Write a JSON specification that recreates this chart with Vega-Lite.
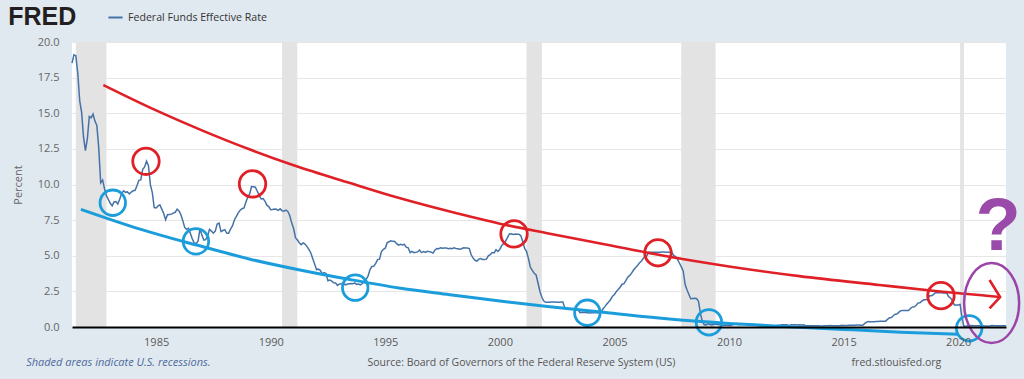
{
"$schema": "https://vega.github.io/schema/vega-lite/v6.json",
"width": 934, "height": 285,
"autosize": {"type": "none"},
"padding": {"left": 72, "top": 42, "right": 18, "bottom": 52},
"background": "#e1e9f0",
"config": {"view": {"fill": "#ffffff", "stroke": null}, "font": "Open Sans"},
"layer": [
{
"data": {"values": [
{"start": "1981-07-01", "end": "1982-11-01"},
{"start": "1990-07-01", "end": "1991-03-01"},
{"start": "2001-03-01", "end": "2001-11-01"},
{"start": "2007-12-01", "end": "2009-06-01"},
{"start": "2020-02-01", "end": "2020-04-01"}
]},
"mark": {"type": "rect", "color": "#e3e3e3"},
"encoding": {
"x": {"field": "start", "type": "temporal",
"scale": {"type": "utc", "domain": [{"year": 1981, "month": 5, "date": 1, "utc": true}, {"year": 2022, "month": 2, "date": 1, "utc": true}]},
"axis": {"title": null, "format": "%Y", "values": [{"year": 1985, "utc": true}, {"year": 1990, "utc": true}, {"year": 1995, "utc": true}, {"year": 2000, "utc": true}, {"year": 2005, "utc": true}, {"year": 2010, "utc": true}, {"year": 2015, "utc": true}, {"year": 2020, "utc": true}],
"grid": false, "ticks": false, "tickSize": 0, "domainColor": "#000000", "domainWidth": 2, "labelPadding": 9, "labelFontSize": 11, "labelColor": "#595959", "labelFont": "Open Sans", "zindex": 1}},
"x2": {"field": "end"}
}
},
{
"data": {"values": [
{"date":"1981-05-01","rate":18.52},{"date":"1981-06-01","rate":19.10},{"date":"1981-07-01","rate":19.04},{"date":"1981-08-01","rate":17.82},{"date":"1981-09-01","rate":15.87},{"date":"1981-10-01","rate":15.08},{"date":"1981-11-01","rate":13.31},{"date":"1981-12-01","rate":12.37},
{"date":"1982-01-01","rate":13.22},{"date":"1982-02-01","rate":14.78},{"date":"1982-03-01","rate":14.68},{"date":"1982-04-01","rate":14.94},{"date":"1982-05-01","rate":14.45},{"date":"1982-06-01","rate":14.15},{"date":"1982-07-01","rate":12.59},{"date":"1982-08-01","rate":10.12},{"date":"1982-09-01","rate":10.31},{"date":"1982-10-01","rate":9.71},{"date":"1982-11-01","rate":9.20},{"date":"1982-12-01","rate":8.95},
{"date":"1983-01-01","rate":8.68},{"date":"1983-02-01","rate":8.51},{"date":"1983-03-01","rate":8.77},{"date":"1983-04-01","rate":8.80},{"date":"1983-05-01","rate":8.63},{"date":"1983-06-01","rate":8.98},{"date":"1983-07-01","rate":9.37},{"date":"1983-08-01","rate":9.56},{"date":"1983-09-01","rate":9.45},{"date":"1983-10-01","rate":9.48},{"date":"1983-11-01","rate":9.34},{"date":"1983-12-01","rate":9.47},
{"date":"1984-01-01","rate":9.56},{"date":"1984-02-01","rate":9.59},{"date":"1984-03-01","rate":9.91},{"date":"1984-04-01","rate":10.29},{"date":"1984-05-01","rate":10.32},{"date":"1984-06-01","rate":11.06},{"date":"1984-07-01","rate":11.23},{"date":"1984-08-01","rate":11.64},{"date":"1984-09-01","rate":11.30},{"date":"1984-10-01","rate":9.99},{"date":"1984-11-01","rate":9.43},{"date":"1984-12-01","rate":8.38},
{"date":"1985-01-01","rate":8.35},{"date":"1985-02-01","rate":8.50},{"date":"1985-03-01","rate":8.58},{"date":"1985-04-01","rate":8.27},{"date":"1985-05-01","rate":7.97},{"date":"1985-06-01","rate":7.53},{"date":"1985-07-01","rate":7.88},{"date":"1985-08-01","rate":7.90},{"date":"1985-09-01","rate":7.92},{"date":"1985-10-01","rate":7.99},{"date":"1985-11-01","rate":8.05},{"date":"1985-12-01","rate":8.27},
{"date":"1986-01-01","rate":8.14},{"date":"1986-02-01","rate":7.86},{"date":"1986-03-01","rate":7.48},{"date":"1986-04-01","rate":6.99},{"date":"1986-05-01","rate":6.85},{"date":"1986-06-01","rate":6.92},{"date":"1986-07-01","rate":6.56},{"date":"1986-08-01","rate":6.17},{"date":"1986-09-01","rate":5.89},{"date":"1986-10-01","rate":5.85},{"date":"1986-11-01","rate":6.04},{"date":"1986-12-01","rate":6.91},
{"date":"1987-01-01","rate":6.43},{"date":"1987-02-01","rate":6.10},{"date":"1987-03-01","rate":6.13},{"date":"1987-04-01","rate":6.37},{"date":"1987-05-01","rate":6.85},{"date":"1987-06-01","rate":6.73},{"date":"1987-07-01","rate":6.58},{"date":"1987-08-01","rate":6.73},{"date":"1987-09-01","rate":7.22},{"date":"1987-10-01","rate":7.29},{"date":"1987-11-01","rate":6.69},{"date":"1987-12-01","rate":6.77},
{"date":"1988-01-01","rate":6.83},{"date":"1988-02-01","rate":6.58},{"date":"1988-03-01","rate":6.58},{"date":"1988-04-01","rate":6.87},{"date":"1988-05-01","rate":7.09},{"date":"1988-06-01","rate":7.51},{"date":"1988-07-01","rate":7.75},{"date":"1988-08-01","rate":8.01},{"date":"1988-09-01","rate":8.19},{"date":"1988-10-01","rate":8.30},{"date":"1988-11-01","rate":8.35},{"date":"1988-12-01","rate":8.76},
{"date":"1989-01-01","rate":9.12},{"date":"1989-02-01","rate":9.36},{"date":"1989-03-01","rate":9.85},{"date":"1989-04-01","rate":9.84},{"date":"1989-05-01","rate":9.81},{"date":"1989-06-01","rate":9.53},{"date":"1989-07-01","rate":9.24},{"date":"1989-08-01","rate":8.99},{"date":"1989-09-01","rate":9.02},{"date":"1989-10-01","rate":8.84},{"date":"1989-11-01","rate":8.55},{"date":"1989-12-01","rate":8.45},
{"date":"1990-01-01","rate":8.23},{"date":"1990-02-01","rate":8.24},{"date":"1990-03-01","rate":8.28},{"date":"1990-04-01","rate":8.26},{"date":"1990-05-01","rate":8.18},{"date":"1990-06-01","rate":8.29},{"date":"1990-07-01","rate":8.15},{"date":"1990-08-01","rate":8.13},{"date":"1990-09-01","rate":8.20},{"date":"1990-10-01","rate":8.11},{"date":"1990-11-01","rate":7.81},{"date":"1990-12-01","rate":7.31},
{"date":"1991-01-01","rate":6.91},{"date":"1991-02-01","rate":6.25},{"date":"1991-03-01","rate":6.12},{"date":"1991-04-01","rate":5.91},{"date":"1991-05-01","rate":5.78},{"date":"1991-06-01","rate":5.90},{"date":"1991-07-01","rate":5.82},{"date":"1991-08-01","rate":5.66},{"date":"1991-09-01","rate":5.45},{"date":"1991-10-01","rate":5.21},{"date":"1991-11-01","rate":4.81},{"date":"1991-12-01","rate":4.43},
{"date":"1992-01-01","rate":4.03},{"date":"1992-02-01","rate":4.06},{"date":"1992-03-01","rate":3.98},{"date":"1992-04-01","rate":3.73},{"date":"1992-05-01","rate":3.82},{"date":"1992-06-01","rate":3.76},{"date":"1992-07-01","rate":3.25},{"date":"1992-08-01","rate":3.30},{"date":"1992-09-01","rate":3.22},{"date":"1992-10-01","rate":3.10},{"date":"1992-11-01","rate":3.09},{"date":"1992-12-01","rate":2.92},
{"date":"1993-01-01","rate":3.02},{"date":"1993-02-01","rate":3.03},{"date":"1993-03-01","rate":3.07},{"date":"1993-04-01","rate":2.96},{"date":"1993-05-01","rate":3.00},{"date":"1993-06-01","rate":3.04},{"date":"1993-07-01","rate":3.06},{"date":"1993-08-01","rate":3.03},{"date":"1993-09-01","rate":3.09},{"date":"1993-10-01","rate":2.99},{"date":"1993-11-01","rate":3.02},{"date":"1993-12-01","rate":2.96},
{"date":"1994-01-01","rate":3.05},{"date":"1994-02-01","rate":3.25},{"date":"1994-03-01","rate":3.34},{"date":"1994-04-01","rate":3.56},{"date":"1994-05-01","rate":4.01},{"date":"1994-06-01","rate":4.25},{"date":"1994-07-01","rate":4.26},{"date":"1994-08-01","rate":4.47},{"date":"1994-09-01","rate":4.73},{"date":"1994-10-01","rate":4.76},{"date":"1994-11-01","rate":5.29},{"date":"1994-12-01","rate":5.45},
{"date":"1995-01-01","rate":5.53},{"date":"1995-02-01","rate":5.92},{"date":"1995-03-01","rate":5.98},{"date":"1995-04-01","rate":6.05},{"date":"1995-05-01","rate":6.01},{"date":"1995-06-01","rate":6.00},{"date":"1995-07-01","rate":5.85},{"date":"1995-08-01","rate":5.74},{"date":"1995-09-01","rate":5.80},{"date":"1995-10-01","rate":5.76},{"date":"1995-11-01","rate":5.80},{"date":"1995-12-01","rate":5.60},
{"date":"1996-01-01","rate":5.56},{"date":"1996-02-01","rate":5.22},{"date":"1996-03-01","rate":5.31},{"date":"1996-04-01","rate":5.22},{"date":"1996-05-01","rate":5.24},{"date":"1996-06-01","rate":5.27},{"date":"1996-07-01","rate":5.40},{"date":"1996-08-01","rate":5.22},{"date":"1996-09-01","rate":5.30},{"date":"1996-10-01","rate":5.24},{"date":"1996-11-01","rate":5.31},{"date":"1996-12-01","rate":5.29},
{"date":"1997-01-01","rate":5.25},{"date":"1997-02-01","rate":5.19},{"date":"1997-03-01","rate":5.39},{"date":"1997-04-01","rate":5.51},{"date":"1997-05-01","rate":5.50},{"date":"1997-06-01","rate":5.56},{"date":"1997-07-01","rate":5.52},{"date":"1997-08-01","rate":5.54},{"date":"1997-09-01","rate":5.54},{"date":"1997-10-01","rate":5.50},{"date":"1997-11-01","rate":5.52},{"date":"1997-12-01","rate":5.50},
{"date":"1998-01-01","rate":5.56},{"date":"1998-02-01","rate":5.51},{"date":"1998-03-01","rate":5.49},{"date":"1998-04-01","rate":5.45},{"date":"1998-05-01","rate":5.49},{"date":"1998-06-01","rate":5.56},{"date":"1998-07-01","rate":5.54},{"date":"1998-08-01","rate":5.55},{"date":"1998-09-01","rate":5.51},{"date":"1998-10-01","rate":5.07},{"date":"1998-11-01","rate":4.83},{"date":"1998-12-01","rate":4.68},
{"date":"1999-01-01","rate":4.63},{"date":"1999-02-01","rate":4.76},{"date":"1999-03-01","rate":4.81},{"date":"1999-04-01","rate":4.74},{"date":"1999-05-01","rate":4.74},{"date":"1999-06-01","rate":4.76},{"date":"1999-07-01","rate":4.99},{"date":"1999-08-01","rate":5.07},{"date":"1999-09-01","rate":5.22},{"date":"1999-10-01","rate":5.20},{"date":"1999-11-01","rate":5.42},{"date":"1999-12-01","rate":5.30},
{"date":"2000-01-01","rate":5.45},{"date":"2000-02-01","rate":5.73},{"date":"2000-03-01","rate":5.85},{"date":"2000-04-01","rate":6.02},{"date":"2000-05-01","rate":6.27},{"date":"2000-06-01","rate":6.53},{"date":"2000-07-01","rate":6.54},{"date":"2000-08-01","rate":6.50},{"date":"2000-09-01","rate":6.52},{"date":"2000-10-01","rate":6.51},{"date":"2000-11-01","rate":6.51},{"date":"2000-12-01","rate":6.40},
{"date":"2001-01-01","rate":5.98},{"date":"2001-02-01","rate":5.49},{"date":"2001-03-01","rate":5.31},{"date":"2001-04-01","rate":4.80},{"date":"2001-05-01","rate":4.21},{"date":"2001-06-01","rate":3.97},{"date":"2001-07-01","rate":3.77},{"date":"2001-08-01","rate":3.65},{"date":"2001-09-01","rate":3.07},{"date":"2001-10-01","rate":2.49},{"date":"2001-11-01","rate":2.09},{"date":"2001-12-01","rate":1.82},
{"date":"2002-01-01","rate":1.73},{"date":"2002-02-01","rate":1.74},{"date":"2002-03-01","rate":1.73},{"date":"2002-04-01","rate":1.75},{"date":"2002-05-01","rate":1.75},{"date":"2002-06-01","rate":1.75},{"date":"2002-07-01","rate":1.73},{"date":"2002-08-01","rate":1.74},{"date":"2002-09-01","rate":1.75},{"date":"2002-10-01","rate":1.75},{"date":"2002-11-01","rate":1.34},{"date":"2002-12-01","rate":1.24},
{"date":"2003-01-01","rate":1.24},{"date":"2003-02-01","rate":1.26},{"date":"2003-03-01","rate":1.25},{"date":"2003-04-01","rate":1.26},{"date":"2003-05-01","rate":1.26},{"date":"2003-06-01","rate":1.22},{"date":"2003-07-01","rate":1.01},{"date":"2003-08-01","rate":1.03},{"date":"2003-09-01","rate":1.01},{"date":"2003-10-01","rate":1.01},{"date":"2003-11-01","rate":1.00},{"date":"2003-12-01","rate":0.98},
{"date":"2004-01-01","rate":1.00},{"date":"2004-02-01","rate":1.01},{"date":"2004-03-01","rate":1.00},{"date":"2004-04-01","rate":1.00},{"date":"2004-05-01","rate":1.00},{"date":"2004-06-01","rate":1.03},{"date":"2004-07-01","rate":1.26},{"date":"2004-08-01","rate":1.43},{"date":"2004-09-01","rate":1.61},{"date":"2004-10-01","rate":1.76},{"date":"2004-11-01","rate":1.93},{"date":"2004-12-01","rate":2.16},
{"date":"2005-01-01","rate":2.28},{"date":"2005-02-01","rate":2.50},{"date":"2005-03-01","rate":2.63},{"date":"2005-04-01","rate":2.79},{"date":"2005-05-01","rate":3.00},{"date":"2005-06-01","rate":3.04},{"date":"2005-07-01","rate":3.26},{"date":"2005-08-01","rate":3.50},{"date":"2005-09-01","rate":3.62},{"date":"2005-10-01","rate":3.78},{"date":"2005-11-01","rate":4.00},{"date":"2005-12-01","rate":4.16},
{"date":"2006-01-01","rate":4.29},{"date":"2006-02-01","rate":4.49},{"date":"2006-03-01","rate":4.59},{"date":"2006-04-01","rate":4.79},{"date":"2006-05-01","rate":4.94},{"date":"2006-06-01","rate":4.99},{"date":"2006-07-01","rate":5.24},{"date":"2006-08-01","rate":5.25},{"date":"2006-09-01","rate":5.25},{"date":"2006-10-01","rate":5.25},{"date":"2006-11-01","rate":5.25},{"date":"2006-12-01","rate":5.24},
{"date":"2007-01-01","rate":5.25},{"date":"2007-02-01","rate":5.26},{"date":"2007-03-01","rate":5.26},{"date":"2007-04-01","rate":5.25},{"date":"2007-05-01","rate":5.25},{"date":"2007-06-01","rate":5.25},{"date":"2007-07-01","rate":5.26},{"date":"2007-08-01","rate":5.02},{"date":"2007-09-01","rate":4.94},{"date":"2007-10-01","rate":4.76},{"date":"2007-11-01","rate":4.49},{"date":"2007-12-01","rate":4.24},
{"date":"2008-01-01","rate":3.94},{"date":"2008-02-01","rate":2.98},{"date":"2008-03-01","rate":2.61},{"date":"2008-04-01","rate":2.28},{"date":"2008-05-01","rate":1.98},{"date":"2008-06-01","rate":2.00},{"date":"2008-07-01","rate":2.01},{"date":"2008-08-01","rate":2.00},{"date":"2008-09-01","rate":1.81},{"date":"2008-10-01","rate":0.97},{"date":"2008-11-01","rate":0.39},{"date":"2008-12-01","rate":0.16},
{"date":"2009-01-01","rate":0.15},{"date":"2009-02-01","rate":0.22},{"date":"2009-03-01","rate":0.18},{"date":"2009-04-01","rate":0.15},{"date":"2009-05-01","rate":0.18},{"date":"2009-06-01","rate":0.21},{"date":"2009-07-01","rate":0.16},{"date":"2009-08-01","rate":0.16},{"date":"2009-09-01","rate":0.15},{"date":"2009-10-01","rate":0.12},{"date":"2009-11-01","rate":0.12},{"date":"2009-12-01","rate":0.12},
{"date":"2010-01-01","rate":0.11},{"date":"2010-02-01","rate":0.13},{"date":"2010-03-01","rate":0.16},{"date":"2010-04-01","rate":0.20},{"date":"2010-05-01","rate":0.20},{"date":"2010-06-01","rate":0.18},{"date":"2010-07-01","rate":0.18},{"date":"2010-08-01","rate":0.19},{"date":"2010-09-01","rate":0.19},{"date":"2010-10-01","rate":0.19},{"date":"2010-11-01","rate":0.19},{"date":"2010-12-01","rate":0.18},
{"date":"2011-01-01","rate":0.17},{"date":"2011-02-01","rate":0.16},{"date":"2011-03-01","rate":0.14},{"date":"2011-04-01","rate":0.10},{"date":"2011-05-01","rate":0.09},{"date":"2011-06-01","rate":0.09},{"date":"2011-07-01","rate":0.07},{"date":"2011-08-01","rate":0.10},{"date":"2011-09-01","rate":0.08},{"date":"2011-10-01","rate":0.07},{"date":"2011-11-01","rate":0.08},{"date":"2011-12-01","rate":0.07},
{"date":"2012-01-01","rate":0.08},{"date":"2012-02-01","rate":0.10},{"date":"2012-03-01","rate":0.13},{"date":"2012-04-01","rate":0.14},{"date":"2012-05-01","rate":0.16},{"date":"2012-06-01","rate":0.16},{"date":"2012-07-01","rate":0.16},{"date":"2012-08-01","rate":0.13},{"date":"2012-09-01","rate":0.14},{"date":"2012-10-01","rate":0.16},{"date":"2012-11-01","rate":0.16},{"date":"2012-12-01","rate":0.16},
{"date":"2013-01-01","rate":0.14},{"date":"2013-02-01","rate":0.15},{"date":"2013-03-01","rate":0.14},{"date":"2013-04-01","rate":0.15},{"date":"2013-05-01","rate":0.11},{"date":"2013-06-01","rate":0.09},{"date":"2013-07-01","rate":0.09},{"date":"2013-08-01","rate":0.08},{"date":"2013-09-01","rate":0.08},{"date":"2013-10-01","rate":0.09},{"date":"2013-11-01","rate":0.08},{"date":"2013-12-01","rate":0.09},
{"date":"2014-01-01","rate":0.07},{"date":"2014-02-01","rate":0.07},{"date":"2014-03-01","rate":0.08},{"date":"2014-04-01","rate":0.09},{"date":"2014-05-01","rate":0.09},{"date":"2014-06-01","rate":0.10},{"date":"2014-07-01","rate":0.09},{"date":"2014-08-01","rate":0.09},{"date":"2014-09-01","rate":0.09},{"date":"2014-10-01","rate":0.09},{"date":"2014-11-01","rate":0.09},{"date":"2014-12-01","rate":0.12},
{"date":"2015-01-01","rate":0.11},{"date":"2015-02-01","rate":0.11},{"date":"2015-03-01","rate":0.11},{"date":"2015-04-01","rate":0.12},{"date":"2015-05-01","rate":0.12},{"date":"2015-06-01","rate":0.13},{"date":"2015-07-01","rate":0.13},{"date":"2015-08-01","rate":0.14},{"date":"2015-09-01","rate":0.14},{"date":"2015-10-01","rate":0.12},{"date":"2015-11-01","rate":0.12},{"date":"2015-12-01","rate":0.24},
{"date":"2016-01-01","rate":0.34},{"date":"2016-02-01","rate":0.38},{"date":"2016-03-01","rate":0.36},{"date":"2016-04-01","rate":0.37},{"date":"2016-05-01","rate":0.37},{"date":"2016-06-01","rate":0.38},{"date":"2016-07-01","rate":0.39},{"date":"2016-08-01","rate":0.40},{"date":"2016-09-01","rate":0.40},{"date":"2016-10-01","rate":0.40},{"date":"2016-11-01","rate":0.41},{"date":"2016-12-01","rate":0.54},
{"date":"2017-01-01","rate":0.65},{"date":"2017-02-01","rate":0.66},{"date":"2017-03-01","rate":0.79},{"date":"2017-04-01","rate":0.90},{"date":"2017-05-01","rate":0.91},{"date":"2017-06-01","rate":1.04},{"date":"2017-07-01","rate":1.15},{"date":"2017-08-01","rate":1.16},{"date":"2017-09-01","rate":1.15},{"date":"2017-10-01","rate":1.15},{"date":"2017-11-01","rate":1.16},{"date":"2017-12-01","rate":1.30},
{"date":"2018-01-01","rate":1.41},{"date":"2018-02-01","rate":1.42},{"date":"2018-03-01","rate":1.51},{"date":"2018-04-01","rate":1.69},{"date":"2018-05-01","rate":1.70},{"date":"2018-06-01","rate":1.82},{"date":"2018-07-01","rate":1.91},{"date":"2018-08-01","rate":1.91},{"date":"2018-09-01","rate":1.95},{"date":"2018-10-01","rate":2.19},{"date":"2018-11-01","rate":2.20},{"date":"2018-12-01","rate":2.27},
{"date":"2019-01-01","rate":2.40},{"date":"2019-02-01","rate":2.40},{"date":"2019-03-01","rate":2.41},{"date":"2019-04-01","rate":2.42},{"date":"2019-05-01","rate":2.39},{"date":"2019-06-01","rate":2.38},{"date":"2019-07-01","rate":2.40},{"date":"2019-08-01","rate":2.13},{"date":"2019-09-01","rate":2.04},{"date":"2019-10-01","rate":1.83},{"date":"2019-11-01","rate":1.55},{"date":"2019-12-01","rate":1.55},
{"date":"2020-01-01","rate":1.55},{"date":"2020-02-01","rate":1.58},{"date":"2020-03-01","rate":0.65},{"date":"2020-04-01","rate":0.05},{"date":"2020-05-01","rate":0.05},{"date":"2020-06-01","rate":0.08},{"date":"2020-07-01","rate":0.09},{"date":"2020-08-01","rate":0.10},{"date":"2020-09-01","rate":0.09},{"date":"2020-10-01","rate":0.09},{"date":"2020-11-01","rate":0.09},{"date":"2020-12-01","rate":0.09},
{"date":"2021-01-01","rate":0.09},{"date":"2021-02-01","rate":0.08},{"date":"2021-03-01","rate":0.07},{"date":"2021-04-01","rate":0.07},{"date":"2021-05-01","rate":0.06},{"date":"2021-06-01","rate":0.08},{"date":"2021-07-01","rate":0.10},{"date":"2021-08-01","rate":0.09},{"date":"2021-09-01","rate":0.08},{"date":"2021-10-01","rate":0.08},{"date":"2021-11-01","rate":0.08},{"date":"2021-12-01","rate":0.08},
{"date":"2022-01-01","rate":0.08},{"date":"2022-02-01","rate":0.08}
]},
"mark": {"type": "line", "strokeWidth": 1.5},
"encoding": {
"x": {"field": "date", "type": "temporal"},
"y": {"field": "rate", "type": "quantitative",
"scale": {"domain": [0, 20], "nice": false, "zero": false},
"axis": {"title": "Percent", "values": [0, 2.5, 5, 7.5, 10, 12.5, 15, 17.5, 20], "tickCount": 12, "format": ".1f", "labelOverlap": false, "grid": true, "gridColor": "#e6e6e6", "domain": false, "ticks": false, "tickSize": 0, "labelPadding": 13, "labelFontSize": 11, "labelColor": "#666666", "labelFont": "Open Sans", "titleFont": "Open Sans", "titleFontSize": 11, "titleFontWeight": "normal", "titleColor": "#666666", "titlePadding": 14}},
"color": {"datum": "Federal Funds Effective Rate", "scale": {"range": ["#4572a7"]},
"legend": {"orient": "none", "legendX": 35, "legendY": -33, "title": null, "symbolType": "stroke", "symbolSize": 200, "symbolStrokeWidth": 2, "labelFontSize": 10.6, "labelColor": "#333333", "labelFont": "Open Sans", "padding": 0}}
}
},
{
"data": {"values": [
{"date":"1982-09-13","v":16.98},{"date":"1985-01-01","v":15.2},{"date":"1987-01-01","v":13.8},{"date":"1989-02-06","v":12.45},{"date":"1991-01-01","v":11.35},{"date":"1993-06-18","v":10.1},{"date":"1995-07-01","v":9.1},{"date":"1997-10-27","v":8.1},{"date":"2000-01-01","v":7.25},{"date":"2002-03-07","v":6.55},{"date":"2004-07-01","v":5.83},{"date":"2007-05-27","v":4.93},{"date":"2010-01-01","v":4.25},{"date":"2013-01-26","v":3.57},{"date":"2016-07-23","v":2.95},{"date":"2019-01-01","v":2.53},{"date":"2020-12-01","v":2.24},{"date":"2021-10-30","v":2.1}
]},
"mark": {"type": "line", "color": "#e02027", "strokeWidth": 2.6, "interpolate": "monotone"},
"encoding": {"x": {"field": "date", "type": "temporal"}, "y": {"field": "v", "type": "quantitative"}}
},
{
"data": {"values": [
{"date":"2021-05-15","v":3.3,"k":1},{"date":"2021-10-30","v":2.1,"k":2},{"date":"2021-05-15","v":1.31,"k":3}
]},
"mark": {"type": "line", "color": "#e02027", "strokeWidth": 2.6},
"encoding": {"x": {"field": "date", "type": "temporal"}, "y": {"field": "v", "type": "quantitative"}, "order": {"field": "k"}}
},
{
"data": {"values": [
{"date":"1981-09-20","v":8.26},{"date":"1984-04-20","v":6.87},{"date":"1986-10-08","v":5.75},{"date":"1989-02-06","v":4.76},{"date":"1991-04-12","v":4.0},{"date":"1993-06-18","v":3.33},{"date":"1995-08-07","v":2.74},{"date":"1997-10-27","v":2.27},{"date":"2000-01-01","v":1.82},{"date":"2002-03-07","v":1.42},{"date":"2004-10-20","v":0.98},{"date":"2007-05-27","v":0.56},{"date":"2010-01-01","v":0.25},{"date":"2012-03-15","v":0.06},{"date":"2015-01-01","v":-0.17},{"date":"2017-07-01","v":-0.36},{"date":"2020-01-01","v":-0.51}
]},
"mark": {"type": "line", "color": "#1b9ddb", "strokeWidth": 3, "interpolate": "monotone"},
"encoding": {"x": {"field": "date", "type": "temporal"}, "y": {"field": "v", "type": "quantitative"}}
},
{
"data": {"values": [
{"date":"1984-07-23","v":11.63},{"date":"1989-03-17","v":10.04},{"date":"2000-08-14","v":6.53},{"date":"2006-11-25","v":5.21},{"date":"2019-04-01","v":2.2}
]},
"mark": {"type": "point", "shape": "circle", "filled": false, "size": 700, "strokeWidth": 2.8, "color": "#e02027", "opacity": 1},
"encoding": {"x": {"field": "date", "type": "temporal"}, "y": {"field": "v", "type": "quantitative"}}
},
{
"data": {"values": [
{"date":"1983-02-10","v":8.72},{"date":"1986-09-27","v":6.01},{"date":"1993-09-09","v":2.76},{"date":"2003-10-27","v":1.0},{"date":"2009-02-14","v":0.33},{"date":"2020-06-24","v":-0.09}
]},
"mark": {"type": "point", "shape": "circle", "filled": false, "size": 650, "strokeWidth": 2.8, "color": "#1b9ddb", "opacity": 1},
"encoding": {"x": {"field": "date", "type": "temporal"}, "y": {"field": "v", "type": "quantitative"}}
},
{
"data": {"values": [{"date":"2021-06-17","v":1.68}]},
"mark": {"type": "point", "shape": "M -0.6875 0 A 0.6875 1 0 1 1 0.6875 0 A 0.6875 1 0 1 1 -0.6875 0 Z", "filled": false, "size": 6400, "strokeWidth": 2.5, "color": "#9b45a8", "opacity": 1},
"encoding": {"x": {"field": "date", "type": "temporal"}, "y": {"field": "v", "type": "quantitative"}}
},
{
"data": {"values": [{"label": "?"}]},
"mark": {"type": "text", "font": "Liberation Sans", "fontWeight": "bold", "fontSize": 74, "color": "#9a4aa8", "align": "center", "baseline": "alphabetic"},
"encoding": {"x": {"datum": {"year": 2021, "month": 9, "date": 27, "utc": true}, "type": "temporal"}, "y": {"datum": 5.4, "type": "quantitative"}, "text": {"field": "label"}}
},
{
"data": {"values": [{"label": "FRED"}]},
"mark": {"type": "text", "font": "Liberation Sans", "fontWeight": "bold", "fontSize": 25, "color": "#231f20", "align": "left", "baseline": "alphabetic"},
"encoding": {"x": {"datum": {"year": 1978, "month": 7, "date": 20, "utc": true}, "type": "temporal"}, "y": {"datum": 21.19, "type": "quantitative"}, "text": {"field": "label"}}
},
{
"data": {"values": [{"label": "Shaded areas indicate U.S. recessions."}]},
"mark": {"type": "text", "font": "Open Sans", "fontStyle": "italic", "fontSize": 11, "color": "#4d6a9c", "align": "left", "baseline": "middle"},
"encoding": {"x": {"datum": {"year": 1979, "month": 5, "date": 1, "utc": true}, "type": "temporal"}, "y": {"datum": -2.5, "type": "quantitative"}, "text": {"field": "label"}}
},
{
"data": {"values": [{"label": "Source: Board of Governors of the Federal Reserve System (US)"}]},
"mark": {"type": "text", "font": "Open Sans", "fontSize": 10.5, "color": "#555555", "align": "center", "baseline": "middle"},
"encoding": {"x": {"datum": {"year": 2000, "month": 12, "date": 10, "utc": true}, "type": "temporal"}, "y": {"datum": -2.5, "type": "quantitative"}, "text": {"field": "label"}}
},
{
"data": {"values": [{"label": "fred.stlouisfed.org"}]},
"mark": {"type": "text", "font": "Open Sans", "fontSize": 10.5, "color": "#555555", "align": "left", "baseline": "middle"},
"encoding": {"x": {"datum": {"year": 2015, "month": 5, "date": 8, "utc": true}, "type": "temporal"}, "y": {"datum": -2.5, "type": "quantitative"}, "text": {"field": "label"}}
}
]
}
